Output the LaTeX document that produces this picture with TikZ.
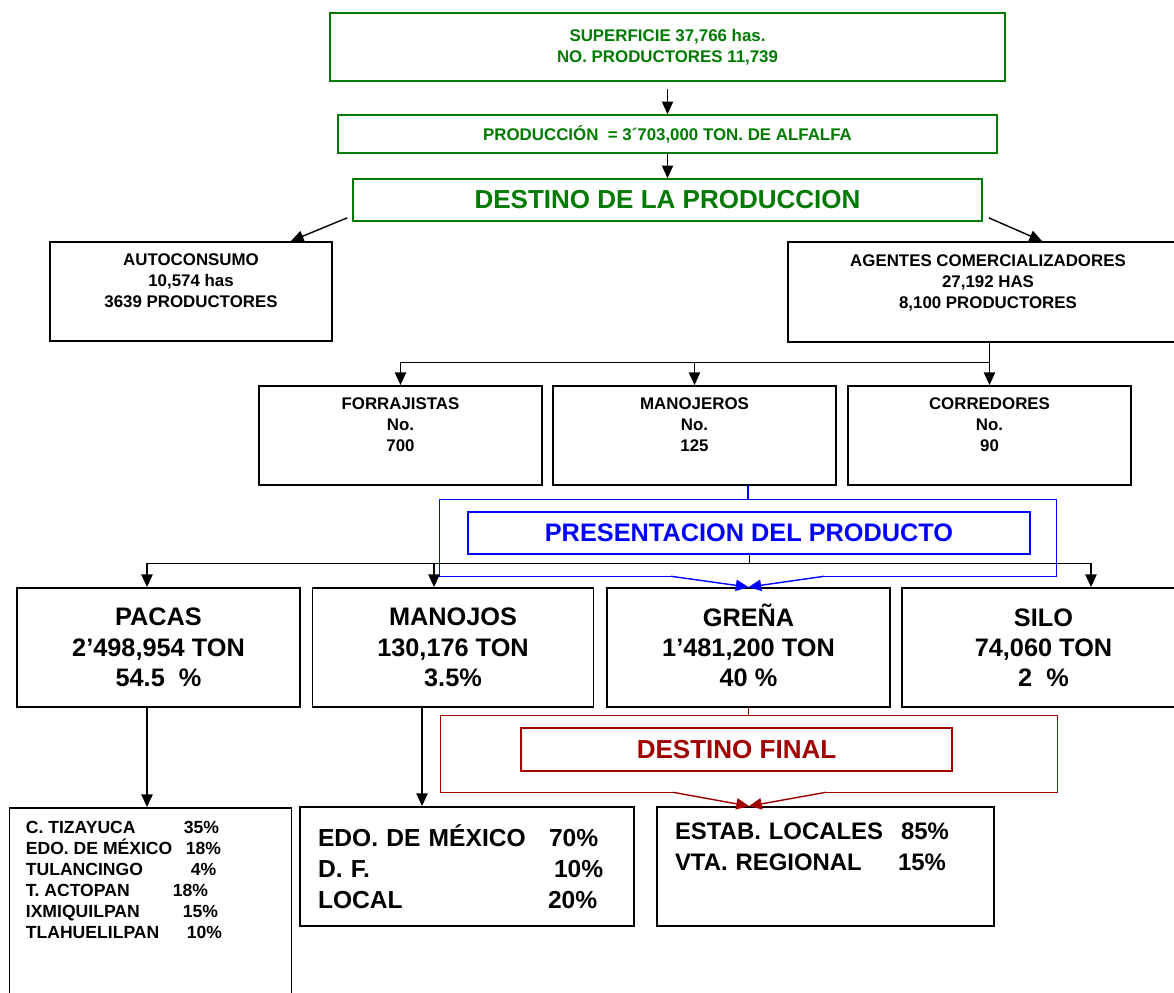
\documentclass[tikz,border=0pt]{standalone}
\usepackage{fontspec}
\setmainfont{Liberation Sans}
\usetikzlibrary{arrows.meta,calc,positioning}
\definecolor{verde}{RGB}{0,122,0}
\definecolor{azul}{RGB}{0,0,255}
\definecolor{guinda}{RGB}{160,0,0}
\newlength\pxu
\setlength\pxu{0.025cm}
\tikzset{
  caja/.style={draw=black, line width=1.3pt, fill=white, align=center, inner sep=0pt,
    font=\fontsize{12}{15}\selectfont\bfseries},
  cajav/.style={caja, draw=verde, text=verde, line width=1.2pt},
  grande/.style={font=\fontsize{18}{21.5}\selectfont\bfseries},
  sz/.style 2 args={minimum width=#1*0.025cm, minimum height=#2*0.025cm},
  flecha/.style={-{Triangle[length=9pt,width=8pt]}, line width=1pt},
}
\begin{document}
\begin{tikzpicture}[x=0.025cm, y=-0.025cm]
\useasboundingbox (0,0) rectangle (1174,992);
\clip (0,0) rectangle (1174,992);
% cabecera
\node[cajav, sz={675}{68}] (sup) at (667.5,47) {SUPERFICIE 37,766 has.\\NO. PRODUCTORES 11,739};
\node[cajav, sz={659}{38}] (prod) at (667.5,134) {PRODUCCIÓN \ = 3´703,000 TON. DE ALFALFA};
\node[cajav, sz={629}{42}, font=\fontsize{18.5}{22}\selectfont\bfseries] (dest) at (667.5,200) {DESTINO DE LA PRODUCCION};
\draw[flecha, shorten <=0.175cm] (sup) -- (prod);
\draw[flecha] (prod) -- (dest);
% destino
\node[caja, sz={282}{99}] (auto) at (191,291.5) {AUTOCONSUMO\\10,574 has\\3639 PRODUCTORES\\ \mbox{}};
\node[caja, sz={400}{100}] (agen) at (988,292) {AGENTES COMERCIALIZADORES\\27,192 HAS\\8,100 PRODUCTORES\\ \mbox{}};
\draw[flecha] ($(dest.south west)+(-5,-4)$) -- ($(auto.north east)+(-42,0)$);
\draw[flecha] ($(dest.south east)+(6,-4)$) -- ($(agen.north west)+(255,0)$);
% agentes
\node[caja, sz={283}{99}] (forr) at (400.5,435.5) {FORRAJISTAS\\No.\\700\\ \mbox{}};
\node[caja, sz={283}{99}] (mano) at (694.5,435.5) {MANOJEROS\\No.\\125\\ \mbox{}};
\node[caja, sz={283}{99}] (corr) at (989.5,435.5) {CORREDORES\\No.\\90\\ \mbox{}};
\coordinate (bus1) at (0,362);
\draw[flecha] (agen.south -| corr.north) -- (corr.north);
\draw (bus1 -| forr.north) -- (bus1 -| corr.north);
\foreach \c in {forr,mano} \draw[flecha] (bus1 -| \c.north) -- (\c.north);
% presentacion
\node[sz={616}{76}] (marcoA) at (748,538) {};
\draw[azul, line width=1pt] ($(marcoA.south)+(-77,0)$) -- (marcoA.south west) -- (marcoA.north west)
  -- (marcoA.north east) -- (marcoA.south east) -- ($(marcoA.south)+(76,0)$);
\node[caja, draw=azul, text=azul, grande, sz={562}{42}] (pres) at (749,533) {PRESENTACION DEL PRODUCTO};
\draw[azul, line width=1pt] (mano.south -| marcoA.north) -- (marcoA.north);
% productos
\node[caja, grande, sz={283}{119}] (pacas) at (158.5,647.5) {PACAS\\2'498,954 TON\\54.5 \ \%};
\node[caja, grande, sz={281}{119}] (manoj) at (453,647.5) {MANOJOS\\130,176 TON\\3.5\%};
\node[caja, grande, sz={283}{119}] (gren) at (748.5,647.5) {\raisebox{0pt}[0.72em][0pt]{GREÑA}\\1'481,200 TON\\40 \%};
\node[caja, grande, sz={283}{119}] (silo) at (1043.5,647.5) {SILO\\74,060 TON\\2 \ \%};
\coordinate (bajaP) at (147,563);
\coordinate (bajaM) at (434,563);
\coordinate (bajaS) at (1091,563);
\draw (bajaP) -- (bajaS);
\draw (pres.south) -- (pres.south |- bajaP);
\foreach \c/\n in {bajaP/pacas,bajaM/manoj,bajaS/silo} \draw[flecha] (\c) -- (\c |- \n.north);
\draw[azul, flecha] ($(marcoA.south)+(-77,0)$) -- (gren.north);
\draw[azul, flecha] ($(marcoA.south)+(76,0)$) -- (gren.north);
% destino final
\node[sz={616}{76}] (marcoB) at (749,754) {};
\draw[guinda, line width=1pt] ($(marcoB.south)+(-76,0)$) -- (marcoB.south west) -- (marcoB.north west)
  -- (marcoB.north east) -- (marcoB.south east) -- ($(marcoB.south)+(77,0)$);
\node[caja, draw=guinda, text=guinda, font=\fontsize{18.5}{22}\selectfont\bfseries, sz={431}{43}] (final) at (736.5,749.5) {DESTINO FINAL};
\draw[guinda, line width=1pt] (gren.south) -- (gren.south |- marcoB.north);
% mercados
\node[caja, sz={282}{200}] (lista) at (150.5,908) {};
\node[anchor=north west, align=left, inner sep=0pt, font=\fontsize{12.5}{14.9}\selectfont\bfseries] (listatxt)
  at ($(lista.north west)+(17,14)$) {%
  \makebox[158\pxu][l]{C. TIZAYUCA}35\%\\
  \makebox[160\pxu][l]{EDO. DE MÉXICO}18\%\\
  \makebox[165\pxu][l]{TULANCINGO}4\%\\
  \makebox[147\pxu][l]{T. ACTOPAN}18\%\\
  \makebox[157\pxu][l]{IXMIQUILPAN}15\%\\
  \makebox[161\pxu][l]{TLAHUELILPAN}10\%};
\node[caja, align=left, text width=298*0.025cm, font=\fontsize{17.5}{22}\selectfont\bfseries, sz={334}{119}] (edo) at (467,866.5) {%
  \makebox[231\pxu][l]{EDO. DE MÉXICO}70\%\\
  \makebox[236\pxu][l]{D. F.}10\%\\
  \makebox[230\pxu][l]{LOCAL}20\%};
\node[caja, align=left, text width=301*0.025cm, font=\fontsize{17}{22}\selectfont\bfseries, sz={337}{119}] (estab) at (825.5,866.5) {%
  \makebox[226\pxu][l]{ESTAB. LOCALES}85\%\\
  \makebox[223\pxu][l]{VTA. REGIONAL}15\%\\[6pt] \mbox{}};
\coordinate (bajaE) at (422,0);
\coordinate (llegaB) at (749,0);
\draw[flecha] (pacas.south -| bajaP) -- (lista.north -| bajaP);
\draw[flecha] (manoj.south -| bajaE) -- (edo.north -| bajaE);
\draw[guinda, flecha] ($(marcoB.south)+(-76,0)$) -- (estab.north -| llegaB);
\draw[guinda, flecha] ($(marcoB.south)+(77,0)$) -- (estab.north -| llegaB);
\end{tikzpicture}
\end{document}
